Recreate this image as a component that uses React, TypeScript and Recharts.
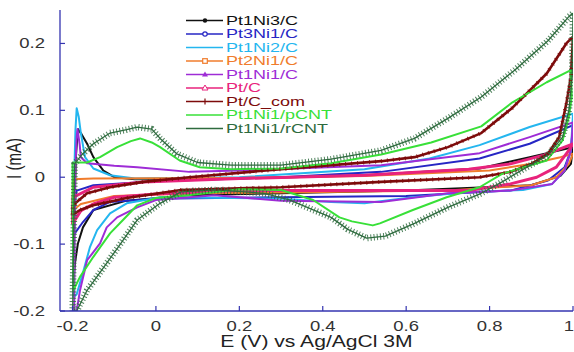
import React from 'react';
import { LineChart, Line, XAxis, YAxis, Legend, Label } from 'recharts';

type Pt = [number, number];

// ---- data: [E (V), I (mA)] loops ----
const pt1ni3C: Pt[] = [
  [-0.198, -0.157], [-0.195, -0.05], [-0.192, 0.03], [-0.187, 0.072], [-0.178, 0.064], [-0.165, 0.05],
  [-0.15, 0.03], [-0.126, 0.01], [-0.1, 0.0], [-0.05, -0.003], [0.2, -0.002], [0.5, 0.003],
  [0.776, 0.013], [0.896, 0.03], [1.0, 0.045],
  [0.995, 0.02], [0.97, 0.002], [0.9, -0.012], [0.6, -0.02], [0.3, -0.024], [0.077, -0.027],
  [-0.07, -0.035], [-0.15, -0.049], [-0.175, -0.075], [-0.187, -0.099], [-0.194, -0.128], [-0.198, -0.157],
];

const pt3ni1C: Pt[] = [
  [-0.198, -0.087], [-0.195, -0.04], [-0.19, -0.02], [-0.15, -0.012], [0.0, -0.006], [0.3, 0.0],
  [0.54, 0.008], [0.776, 0.028], [0.896, 0.05], [1.0, 0.078],
  [0.995, 0.04], [0.98, 0.015], [0.94, -0.005], [0.85, -0.02], [0.6, -0.028], [0.3, -0.03],
  [0.0, -0.032], [-0.11, -0.037], [-0.15, -0.049], [-0.175, -0.067], [-0.198, -0.087],
];

const pt1ni2C: Pt[] = [
  [-0.198, -0.18], [-0.196, 0.0], [-0.193, 0.07], [-0.19, 0.103], [-0.185, 0.09], [-0.18, 0.066],
  [-0.17, 0.03], [-0.15, 0.013], [-0.11, 0.003], [-0.05, -0.002], [0.2, 0.0], [0.5, 0.012],
  [0.656, 0.028], [0.776, 0.048], [0.896, 0.075], [1.0, 0.095],
  [0.995, 0.04], [0.98, 0.01], [0.95, -0.01], [0.88, -0.019], [0.75, -0.022], [0.616, -0.03],
  [0.5, -0.039], [0.42, -0.037], [0.3, -0.032], [0.01, -0.03], [-0.07, -0.039], [-0.11, -0.054],
  [-0.141, -0.079], [-0.158, -0.104], [-0.175, -0.143], [-0.19, -0.175], [-0.198, -0.18],
];

const pt2ni1C: Pt[] = [
  [-0.2, -0.05], [-0.199, -0.003], [-0.15, -0.002], [0.2, -0.001], [0.5, 0.002], [0.8, 0.01],
  [0.9, 0.02], [0.97, 0.03], [1.0, 0.035],
  [0.99, 0.02], [0.96, 0.0], [0.9, -0.012], [0.7, -0.02], [0.4, -0.022], [0.1, -0.024],
  [-0.1, -0.028], [-0.18, -0.04], [-0.2, -0.05],
];

const pt1ni1C: Pt[] = [
  [-0.196, -0.21], [-0.194, 0.0], [-0.19, 0.06], [-0.188, 0.072], [-0.183, 0.05], [-0.18, 0.03],
  [-0.165, 0.021], [-0.1, 0.017], [-0.045, 0.015], [0.08, 0.008], [0.2, 0.01], [0.54, 0.018],
  [0.776, 0.036], [0.896, 0.06], [1.0, 0.082],
  [0.995, 0.04], [0.98, 0.01], [0.95, -0.01], [0.85, -0.02], [0.7, -0.024], [0.54, -0.037],
  [0.3, -0.035], [0.14, -0.027], [0.0, -0.034], [-0.045, -0.045], [-0.093, -0.06], [-0.118, -0.075],
  [-0.134, -0.099], [-0.15, -0.112], [-0.165, -0.124], [-0.182, -0.169], [-0.19, -0.2], [-0.196, -0.21],
];

const ptC: Pt[] = [
  [-0.2, -0.07], [-0.199, -0.03], [-0.15, -0.015], [-0.03, -0.007], [0.2, -0.002], [0.5, 0.003],
  [0.75, 0.012], [0.85, 0.02], [0.93, 0.033], [1.0, 0.05],
  [0.99, 0.04], [0.96, 0.015], [0.913, 0.0], [0.85, -0.01], [0.75, -0.02], [0.5, -0.02],
  [0.2, -0.02], [0.0, -0.025], [-0.1, -0.03], [-0.15, -0.04], [-0.18, -0.05], [-0.2, -0.07],
];

const ptCcom: Pt[] = [
  [-0.2, -0.056], [-0.199, -0.042], [-0.165, -0.024], [-0.11, -0.015], [-0.03, -0.007], [0.08, 0.0],
  [0.3, 0.012], [0.54, 0.024], [0.62, 0.03], [0.7, 0.045], [0.78, 0.066], [0.855, 0.104],
  [0.937, 0.155], [0.984, 0.2], [1.0, 0.21],
  [0.995, 0.15], [0.984, 0.11], [0.967, 0.06], [0.94, 0.035], [0.9, 0.02], [0.85, 0.008],
  [0.776, 0.0], [0.54, -0.007], [0.3, -0.015], [0.06, -0.019], [-0.07, -0.031], [-0.15, -0.042],
  [-0.182, -0.049], [-0.2, -0.056],
];

const pt1ni1pCNT: Pt[] = [
  [-0.2, 0.022], [-0.165, 0.022], [-0.134, 0.03], [-0.093, 0.045], [-0.06, 0.054], [-0.038, 0.058],
  [-0.01, 0.052], [0.01, 0.045], [0.057, 0.025], [0.105, 0.015], [0.18, 0.012], [0.3, 0.013],
  [0.42, 0.021], [0.54, 0.034], [0.66, 0.052], [0.78, 0.076], [0.855, 0.112], [0.937, 0.142],
  [0.995, 0.16],
  [0.997, 0.12], [0.99, 0.09], [0.975, 0.055], [0.937, 0.025], [0.872, 0.013], [0.83, 0.005],
  [0.776, -0.015], [0.697, -0.03], [0.616, -0.049], [0.537, -0.069], [0.52, -0.072], [0.47, -0.066],
  [0.44, -0.06], [0.377, -0.034], [0.3, -0.019], [0.2, -0.018], [0.077, -0.027], [0.0, -0.031],
  [-0.045, -0.042], [-0.079, -0.064], [-0.11, -0.084], [-0.15, -0.119], [-0.182, -0.149],
  [-0.198, -0.169], [-0.2, 0.022],
];

const pt1ni1rCNT: Pt[] = [
  [-0.2, -0.22], [-0.195, 0.02], [-0.18, 0.032], [-0.15, 0.05], [-0.11, 0.066], [-0.07, 0.071],
  [-0.045, 0.075], [-0.01, 0.072], [0.01, 0.058], [0.05, 0.035], [0.1, 0.022], [0.18, 0.018],
  [0.3, 0.018], [0.42, 0.027], [0.54, 0.04], [0.62, 0.058], [0.7, 0.088], [0.78, 0.12],
  [0.86, 0.16], [0.94, 0.204], [0.99, 0.24], [1.0, 0.245],
  [0.998, 0.15], [0.99, 0.1], [0.975, 0.06], [0.94, 0.033], [0.87, 0.008], [0.83, -0.007],
  [0.78, -0.024], [0.7, -0.045], [0.62, -0.069], [0.55, -0.088], [0.505, -0.091], [0.46, -0.078],
  [0.42, -0.06], [0.32, -0.034], [0.26, -0.024], [0.14, -0.019], [0.06, -0.022], [0.01, -0.039],
  [-0.045, -0.064], [-0.09, -0.104], [-0.13, -0.139], [-0.165, -0.169], [-0.19, -0.2], [-0.2, -0.22],
];

const X_TICKS = [-0.2, 0, 0.2, 0.4, 0.6, 0.8, 1];
const Y_TICKS = [-0.2, -0.1, 0, 0.1, 0.2];
const X_LABEL = 'E (V) vs Ag/AgCl 3M';
const Y_LABEL = 'I (mA)';

// ---- styles ----
const FONT = '"Liberation Sans", Arial, sans-serif';
const STRETCH = 1.32;
const AXIS_COLOR = '#3434b0';

type Marker = 'none' | 'dot' | 'ring' | 'square' | 'tri' | 'triOpen' | 'plus';
interface SeriesDef {
  name: string;
  pts: Pt[];
  color: string;
  width: number;
  marker: Marker;
  hatch?: { width: number; dash: string };
}

const SERIES: SeriesDef[] = [
  { name: 'Pt1Ni3/C', pts: pt1ni3C, color: '#111111', width: 2, marker: 'dot' },
  { name: 'Pt3Ni1/C', pts: pt3ni1C, color: '#2626c4', width: 2, marker: 'ring' },
  { name: 'Pt1Ni2/C', pts: pt1ni2C, color: '#24b6ef', width: 2, marker: 'none' },
  { name: 'Pt2Ni1/C', pts: pt2ni1C, color: '#f07c2c', width: 2, marker: 'square' },
  { name: 'Pt1Ni1/C', pts: pt1ni1C, color: '#9e2cd6', width: 2, marker: 'tri' },
  { name: 'Pt/C', pts: ptC, color: '#e8237c', width: 3, marker: 'triOpen' },
  { name: 'Pt/C_com', pts: ptCcom, color: '#7d0b0b', width: 2.6, marker: 'plus', hatch: { width: 4, dash: '1 5' } },
  { name: 'Pt1Ni1/pCNT', pts: pt1ni1pCNT, color: '#38e038', width: 2, marker: 'none' },
  { name: 'Pt1Ni1/rCNT', pts: pt1ni1rCNT, color: '#2e6b3e', width: 1.3, marker: 'none', hatch: { width: 6.5, dash: '1 2.2' } },
];

const toRows = (pts: Pt[]) => pts.map(([E, I]) => ({ E, I }));

const fmt = (v: number) => (v === 0 ? '0' : v === 1 ? '1' : v.toFixed(1));

const XTick = (props: any) => {
  const { x, y, payload } = props;
  const last = payload.value === X_TICKS[X_TICKS.length - 1];
  return (
    <g transform={`translate(${last ? x + 1 : x},${y}) scale(${STRETCH},1)`}>
      <text x={0} y={0} dy="0.71em" textAnchor={last ? 'end' : 'middle'} fontSize={14} fill="#333" fontFamily={FONT}>
        {fmt(payload.value)}
      </text>
    </g>
  );
};

const YTick = (props: any) => {
  const { x, y, payload } = props;
  return (
    <g transform={`translate(${x},${y}) scale(${STRETCH},1)`}>
      <text x={0} y={0} dy="0.36em" textAnchor="end" fontSize={14} fill="#333" fontFamily={FONT}>
        {fmt(payload.value)}
      </text>
    </g>
  );
};

const XLabelContent = (props: any) => {
  const vb = props.viewBox || { x: 0, y: 0, width: 0, height: 0 };
  return (
    <g transform={`translate(${vb.x + vb.width / 2},${vb.y + 36}) scale(${STRETCH},1)`}>
      <text x={0} y={0} textAnchor="middle" fontSize={16} fill="#222" fontFamily={FONT}>
        {X_LABEL}
      </text>
    </g>
  );
};

const YLabelContent = (props: any) => {
  const vb = props.viewBox || { x: 0, y: 0, width: 0, height: 0 };
  return (
    <g transform={`translate(${vb.x + 14},${vb.y + vb.height / 2 - 2}) rotate(-90) scale(1,${STRETCH})`}>
      <text x={0} y={0} dy="0.36em" textAnchor="middle" fontSize={15} fill="#222" fontFamily={FONT}>
        {Y_LABEL}
      </text>
    </g>
  );
};

const MarkerShape = ({ m, cx, cy, color }: { m: Marker; cx: number; cy: number; color: string }) => {
  switch (m) {
    case 'dot':
      return <circle cx={cx} cy={cy} r={2.2} fill={color} />;
    case 'ring':
      return <circle cx={cx} cy={cy} r={2.2} fill="#fff" stroke={color} strokeWidth={1.2} />;
    case 'square':
      return <rect x={cx - 2.3} y={cy - 2.3} width={4.6} height={4.6} fill="#fff" stroke={color} strokeWidth={1.2} />;
    case 'tri':
      return <path d={`M${cx},${cy - 3} L${cx + 3},${cy + 2} L${cx - 3},${cy + 2} Z`} fill={color} />;
    case 'triOpen':
      return <path d={`M${cx},${cy - 3} L${cx + 3},${cy + 2} L${cx - 3},${cy + 2} Z`} fill="#fff" stroke={color} strokeWidth={1} />;
    case 'plus':
      return <path d={`M${cx},${cy - 3} L${cx},${cy + 3}`} stroke={color} strokeWidth={1.2} />;
    default:
      return null;
  }
};

const LegendContent = () => (
  <svg width={210} height={132} style={{ overflow: 'visible', display: 'block' }}>
    {SERIES.map((s, i) => {
      const y = 10.5 + i * 13.5;
      return (
        <g key={s.name}>
          <line x1={6} x2={43} y1={y} y2={y} stroke={s.color} strokeWidth={1.4} />
          <MarkerShape m={s.marker} cx={25} cy={y} color={s.color} />
          <g transform={`translate(46,${y}) scale(1.5,1)`}>
            <text x={0} y={0} dy="0.36em" fontSize={12} fill={s.color} fontFamily={FONT}>
              {s.name}
            </text>
          </g>
        </g>
      );
    })}
  </svg>
);

export default function App() {
  return (
    <div style={{ position: 'absolute', left: 0, top: 0, width: 574, height: 352, background: '#fff' }}>
      <LineChart width={574} height={352} margin={{ top: 10, right: 1, bottom: 0, left: 0 }}>
        <XAxis
          dataKey="E"
          type="number"
          domain={[-0.23, 1.0]}
          ticks={X_TICKS}
          allowDataOverflow
          height={41}
          axisLine={{ stroke: AXIS_COLOR, strokeWidth: 1.3 }}
          tickLine={{ stroke: AXIS_COLOR, strokeWidth: 1.2 }}
          tickSize={-5}
          tickMargin={15}
          tick={<XTick />}
          interval={0}
        >
          <Label content={<XLabelContent />} />
        </XAxis>
        <YAxis
          type="number"
          domain={[-0.2, 0.25]}
          ticks={Y_TICKS}
          allowDataOverflow
          width={60}
          axisLine={{ stroke: AXIS_COLOR, strokeWidth: 1.3 }}
          tickLine={{ stroke: AXIS_COLOR, strokeWidth: 1.2 }}
          tickSize={-5}
          tickMargin={20}
          tick={<YTick />}
          interval={0}
        >
          <Label content={<YLabelContent />} />
        </YAxis>
        <Legend
          layout="vertical"
          align="center"
          verticalAlign="middle"
          content={<LegendContent />}
          wrapperStyle={{ left: 180, top: 10, width: 210, height: 132 }}
        />
        {SERIES.map((s) => (
          <Line
            key={s.name}
            name={s.name}
            data={toRows(s.pts)}
            dataKey="I"
            type="linear"
            stroke={s.color}
            strokeWidth={s.width}
            strokeLinejoin="round"
            dot={false}
            activeDot={false}
            isAnimationActive={false}
          />
        ))}
        {SERIES.filter((s) => s.hatch).map((s) => (
          <Line
            key={s.name + '-hatch'}
            name={s.name + ' markers'}
            legendType="none"
            data={toRows(s.pts)}
            dataKey="I"
            type="linear"
            stroke={s.color}
            strokeWidth={s.hatch!.width}
            strokeDasharray={s.hatch!.dash}
            strokeOpacity={0.85}
            dot={false}
            activeDot={false}
            isAnimationActive={false}
          />
        ))}
      </LineChart>
    </div>
  );
}
